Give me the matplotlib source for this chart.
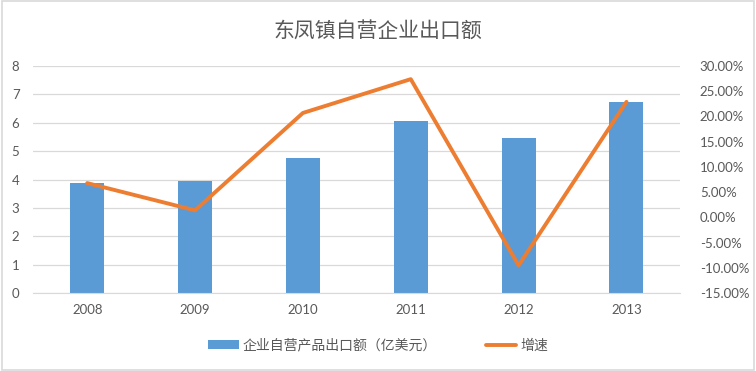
import matplotlib.pyplot as plt
from matplotlib.ticker import FuncFormatter
from matplotlib.patches import Rectangle

# data
years = ["2008", "2009", "2010", "2011", "2012", "2013"]
export_value = [3.87, 3.94, 4.75, 6.06, 5.46, 6.73]
growth_rate = [6.8, 1.4, 20.7, 27.4, -9.5, 22.9]

title = "东凤镇自营企业出口额"
bar_label = "企业自营产品出口额（亿美元）"
line_label = "增速"

plt.rcParams['font.family'] = ['Lato', 'Noto Sans CJK SC', 'DejaVu Sans']
grey = "#595959"

fig = plt.figure(figsize=(7.56, 3.71), dpi=100)
fig.patches.append(Rectangle((0.002, 0.003), 0.995, 0.993, transform=fig.transFigure,
                             fill=False, edgecolor="#d9d9d9", linewidth=1.2))

ax = fig.add_axes([0.044, 0.21, 0.856, 0.612])
x = range(len(years))
bars = ax.bar(x, export_value, width=0.315, color="#5B9BD5", zorder=2, label=bar_label)
ax.set_ylim(0, 8)
ax.set_yticks(range(0, 9))
ax.set_xlim(-0.5, len(years) - 0.5)
ax.set_xticks(list(x))
ax.set_xticklabels(years)
ax.grid(axis="y", color="#d9d9d9", linewidth=0.9, zorder=0)
ax.tick_params(length=0, colors=grey, labelsize=9.5, pad=8)
ax.tick_params(axis="y", pad=10)
for s in ax.spines.values():
    s.set_visible(False)
ax.spines["bottom"].set_visible(True)
ax.spines["bottom"].set_color("#d9d9d9")

ax2 = ax.twinx()
line, = ax2.plot(list(x), growth_rate, color="#ED7D31", linewidth=2.8, zorder=3,
                 solid_capstyle="round", label=line_label)
ax2.set_ylim(-15, 30)
ax2.set_yticks(range(-15, 31, 5))
ax2.yaxis.set_major_formatter(FuncFormatter(lambda v, p: "%.2f%%" % v))
ax2.tick_params(length=0, colors=grey, labelsize=9.5, pad=14)
for s in ax2.spines.values():
    s.set_visible(False)

fig.text(0.5, 0.915, title, ha="center", va="center", fontsize=15, color=grey,
         family=['Noto Sans CJK SC', 'DejaVu Sans'])

leg = fig.legend([bars, line], [bar_label, line_label], loc="center", bbox_to_anchor=(0.5, 0.068),
                 ncol=2, frameon=False, handlelength=2.2, handleheight=0.6, columnspacing=3.5,
                 handletextpad=0.3, prop={'family': ['Noto Sans CJK SC', 'DejaVu Sans'], 'size': 10})
for t in leg.get_texts():
    t.set_color(grey)

fig.savefig("out.png", dpi=100)
